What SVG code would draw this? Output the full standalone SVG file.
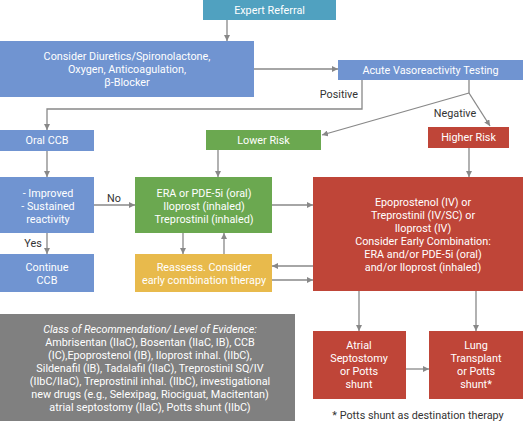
<svg xmlns="http://www.w3.org/2000/svg" width="523" height="421" viewBox="0 0 523 421">
<style>
text{font-family:Roboto,"Liberation Sans",sans-serif;font-size:10.8px;text-anchor:middle;}
.w{fill:#ffffff;}
.k{fill:#333333;}
.teal{fill:#50a1c0;}
.blue{fill:#7094d1;}
.green{fill:#6ba850;}
.red{fill:#bf4538;}
.yellow{fill:#e8ba4c;}
.gray{fill:#808080;}
.c{fill:none;stroke:#888888;stroke-width:1.3;}
</style>
<defs>
<marker id="a" viewBox="0 0 10 10" refX="10" refY="5" markerWidth="6" markerHeight="6" orient="auto" markerUnits="userSpaceOnUse">
<path d="M0,0 L10,5 L0,10 z" fill="#888888"/>
</marker>
</defs>
<rect width="523" height="421" fill="#ffffff"/>
<g id="connectors">
<path class="c" d="M227,20 V41" marker-end="url(#a)"/>
<path class="c" d="M254,69 H338" marker-end="url(#a)"/>
<path class="c" d="M362,80 V109 H47 V130" marker-end="url(#a)"/>
<path class="c" d="M469,80 V93"/>
<path class="c" d="M469,93 L322,135" marker-end="url(#a)"/>
<path class="c" d="M469,93 L490,126" marker-end="url(#a)"/>
<path class="c" d="M47,151 V177" marker-end="url(#a)"/>
<path class="c" d="M218,150 V177" marker-end="url(#a)"/>
<path class="c" d="M469,148 V177" marker-end="url(#a)"/>
<path class="c" d="M94,205 H135" marker-end="url(#a)"/>
<path class="c" d="M272,205 H313" marker-end="url(#a)"/>
<path class="c" d="M47,233 V254" marker-end="url(#a)"/>
<path class="c" d="M183,233 V254" marker-end="url(#a)"/>
<path class="c" d="M224,254 V233" marker-end="url(#a)"/>
<path class="c" d="M313,266 H272" marker-end="url(#a)"/>
<path class="c" d="M272,280 H313" marker-end="url(#a)"/>
<path class="c" d="M359,291 V331" marker-end="url(#a)"/>
<path class="c" d="M476,291 V331" marker-end="url(#a)"/>
<path class="c" d="M406,369 H429" marker-end="url(#a)"/>
<text class="k" x="358" y="98" style="text-anchor:end">Positive</text>
<text class="k" x="455" y="117">Negative</text>
<text class="k" x="114" y="202">No</text>
<text class="k" x="33" y="247">Yes</text>
</g>
<g id="expert-referral">
<rect class="teal" x="203" y="0" width="133" height="20"/>
<text class="w" x="269.5" y="14">Expert Referral</text>
</g>
<g id="consider-diuretics">
<rect class="blue" x="0" y="41" width="254" height="56"/>
<text class="w" x="127" y="59.5">Consider Diuretics/Spironolactone,</text>
<text class="w" x="127" y="72.5">Oxygen, Anticoagulation,</text>
<text class="w" x="127" y="85.5">β-Blocker</text>
</g>
<g id="acute-vasoreactivity">
<rect class="blue" x="338" y="60" width="185" height="20"/>
<text class="w" x="430.5" y="73.5">Acute Vasoreactivity Testing</text>
</g>
<g id="oral-ccb">
<rect class="blue" x="0" y="130" width="94" height="21"/>
<text class="w" x="47" y="144">Oral CCB</text>
</g>
<g id="lower-risk">
<rect class="green" x="206" y="130" width="115" height="20"/>
<text class="w" x="263.5" y="144">Lower Risk</text>
</g>
<g id="higher-risk">
<rect class="red" x="428" y="127" width="81" height="21"/>
<text class="w" x="468.5" y="141">Higher Risk</text>
</g>
<g id="improved">
<rect class="blue" x="0" y="177" width="94" height="56"/>
<text class="w" x="48" y="196.5">- Improved</text>
<text class="w" x="48" y="209.5">- Sustained</text>
<text class="w" x="48" y="222.5">reactivity</text>
</g>
<g id="era-pde5i">
<rect class="green" x="135" y="177" width="137" height="56"/>
<text class="w" x="204" y="196.5">ERA or PDE-5i (oral)</text>
<text class="w" x="204" y="209.5">Iloprost (inhaled)</text>
<text class="w" x="204" y="222.5">Treprostinil (inhaled)</text>
</g>
<g id="epoprostenol">
<rect class="red" x="313" y="177" width="210" height="114"/>
<text class="w" x="423" y="206">Epoprostenol (IV) or</text>
<text class="w" x="423" y="219">Treprostinil (IV/SC) or</text>
<text class="w" x="423" y="232">Iloprost (IV)</text>
<text class="w" x="423" y="245">Consider Early Combination:</text>
<text class="w" x="423" y="258">ERA and/or PDE-5i (oral)</text>
<text class="w" x="423" y="271">and/or Iloprost (inhaled)</text>
</g>
<g id="continue-ccb">
<rect class="blue" x="0" y="254" width="94" height="38"/>
<text class="w" x="47" y="270.5">Continue</text>
<text class="w" x="47" y="283.5">CCB</text>
</g>
<g id="reassess">
<rect class="yellow" x="135" y="254" width="137" height="38"/>
<text class="w" x="204" y="270.5">Reassess. Consider</text>
<text class="w" x="204" y="283.5">early combination therapy</text>
</g>
<g id="class-of-recommendation">
<rect class="gray" x="0" y="314" width="295" height="107"/>
<text class="w" x="150" y="333" style="font-style:italic">Class of Recommendation/ Level of Evidence:</text>
<text class="w" x="150" y="346">Ambrisentan (IIaC), Bosentan (IIaC, IB), CCB</text>
<text class="w" x="150" y="359">(IC),Epoprostenol (IB), Iloprost inhal. (IIbC),</text>
<text class="w" x="150" y="372">Sildenafil (IB), Tadalafil (IIaC), Treprostinil SQ/IV</text>
<text class="w" x="150" y="385">(IIbC/IIaC), Treprostinil inhal. (IIbC), investigational</text>
<text class="w" x="150" y="398">new drugs (e.g., Selexipag, Riociguat, Macitentan)</text>
<text class="w" x="150" y="411">atrial septostomy (IIaC), Potts shunt (IIbC)</text>
</g>
<g id="atrial-septostomy">
<rect class="red" x="313" y="331" width="93" height="68"/>
<text class="w" x="359" y="349">Atrial</text>
<text class="w" x="359" y="362">Septostomy</text>
<text class="w" x="359" y="375">or Potts</text>
<text class="w" x="359" y="388">shunt</text>
</g>
<g id="lung-transplant">
<rect class="red" x="429" y="331" width="94" height="68"/>
<text class="w" x="476" y="349">Lung</text>
<text class="w" x="476" y="362">Transplant</text>
<text class="w" x="476" y="375">or Potts</text>
<text class="w" x="476" y="388">shunt*</text>
</g>
<text class="k" x="418" y="419">* Potts shunt as destination therapy</text>
</svg>
